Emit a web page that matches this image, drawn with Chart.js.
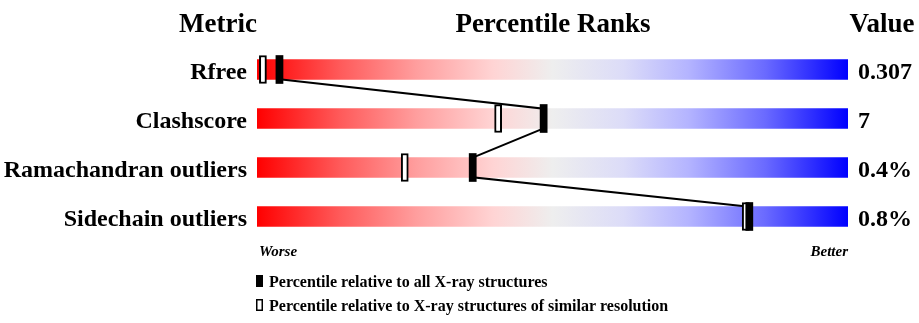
<!DOCTYPE html>
<html>
<head>
<meta charset="utf-8">
<script src="https://cdn.jsdelivr.net/npm/chart.js@4"></script>
<style>
  body { margin: 0; background: #fff; }
  #wrap { width: 919px; height: 323px; }
</style>
</head>
<body>
<div id="wrap"><canvas id="slider" width="919" height="323"></canvas></div>
<script>
// dados do grafico
var metrics = ['Rfree', 'Clashscore', 'Ramachandran outliers', 'Sidechain outliers'];
var values = ['0.307', '7', '0.4%', '0.8%'];
var pctAll = [3.8, 48.5, 36.5, 83.3];       // relativo a todas as estruturas
var pctSimilar = [1.0, 40.8, 25.0, 82.7];   // relativo a resolucao similar
var legendLabels = ['Percentile relative to all X-ray structures',
    'Percentile relative to X-ray structures of similar resolution'];

var barHalf = 0.2;     // meia altura da barra em unidades de linha
var markHalf = 0.6;    // meia largura do marcador em percentil
var serif = '"Liberation Serif", "Times New Roman", serif';

// barras de fundo 0..100
var fundo = metrics.map(function (m, i) { return { x: [0, 100], y: i }; });
var marcAll = pctAll.map(function (p, i) { return { x: [p - markHalf, p + markHalf], y: i }; });
var marcSim = pctSimilar.map(function (p, i) { return { x: [p - markHalf, p + markHalf], y: i }; });

// linha ligando os marcadores: base de uma barra ate o topo da proxima
var linha = [];
pctAll.forEach(function (p, i) {
    if (i > 0) linha.push({ x: p, y: i - barHalf });
    if (i < pctAll.length - 1) linha.push({ x: p, y: i + barHalf });
});

var gradCache = null;
function gradiente(ctx) {
    var chart = ctx.chart;
    var area = chart.chartArea;
    if (!area) return '#eeeeee';
    if (gradCache) return gradCache;
    var g = chart.ctx.createLinearGradient(area.left, 0, area.right, 0);
    g.addColorStop(0, '#ff0000');
    g.addColorStop(0.14, '#ff5a5a');
    g.addColorStop(0.27, '#ff9e9e');
    g.addColorStop(0.40, '#ffd4d4');
    g.addColorStop(0.50, '#eeeeee');
    g.addColorStop(0.62, '#dcdcf8');
    g.addColorStop(0.73, '#b4b4ff');
    g.addColorStop(0.86, '#6a6aff');
    g.addColorStop(1, '#0000ff');
    gradCache = g;
    return g;
}

// textos: cabecalho, rotulos, valores e legenda
var textos = {
    id: 'textos',
    afterDraw: function (chart) {
        var ctx = chart.ctx;
        var y = chart.scales.y;
        var area = chart.chartArea;
        ctx.save();
        ctx.fillStyle = '#000';

        ctx.font = 'bold 27px ' + serif;
        ctx.textBaseline = 'alphabetic';
        ctx.textAlign = 'center';
        ctx.fillText('Metric', 218, 32);
        ctx.fillText('Percentile Ranks', 553, 32);
        ctx.fillText('Value', 882, 32);

        ctx.font = 'bold 24px ' + serif;
        metrics.forEach(function (m, i) {
            var py = y.getPixelForValue(i);
            ctx.textAlign = 'right';
            ctx.fillText(m, area.left - 10, py + 9.5);
            ctx.textAlign = 'left';
            ctx.fillText(values[i], area.right + 10, py + 9.5);
        });

        ctx.font = 'italic bold 15px ' + serif;
        ctx.textAlign = 'left';
        ctx.fillText('Worse', area.left + 2, 256);
        ctx.textAlign = 'right';
        ctx.fillText('Better', area.right, 256);

        ctx.font = 'bold 16px ' + serif;
        ctx.textAlign = 'left';
        ctx.fillRect(256, 275, 7, 12);
        ctx.fillText(legendLabels[0], 269, 287);
        ctx.lineWidth = 1.5;
        ctx.strokeRect(256.75, 299.75, 5.5, 10.5);
        ctx.fillText(legendLabels[1], 269, 311);
        ctx.restore();
    }
};

new Chart(document.getElementById('slider'), {
    type: 'bar',
    data: {
        datasets: [{
            data: marcAll,
            backgroundColor: '#000',
            borderWidth: 0,
            barThickness: 28,
            grouped: false,
            order: 0
        }, {
            data: marcSim,
            backgroundColor: '#fff',
            borderColor: '#000',
            borderWidth: 2,
            borderSkipped: false,
            barThickness: 28,
            grouped: false,
            order: 1
        }, {
            type: 'line',
            data: linha,
            borderColor: '#000',
            borderWidth: 2,
            pointRadius: 0,
            fill: false,
            tension: 0,
            order: 2
        }, {
            data: fundo,
            backgroundColor: gradiente,
            borderWidth: 0,
            barThickness: 20,
            grouped: false,
            order: 3
        }]
    },
    options: {
        indexAxis: 'y',
        responsive: false,
        animation: false,
        layout: { autoPadding: false, padding: { left: 257, right: 71, top: 45, bottom: 82 } },
        scales: {
            x: { type: 'linear', min: 0, max: 100, offset: false, display: false },
            y: { type: 'linear', min: -0.5, max: 3.5, reverse: true, offset: false, display: false }
        },
        plugins: {
            legend: { display: false },
            tooltip: { enabled: false }
        }
    },
    plugins: [textos]
});
</script>
</body>
</html>
